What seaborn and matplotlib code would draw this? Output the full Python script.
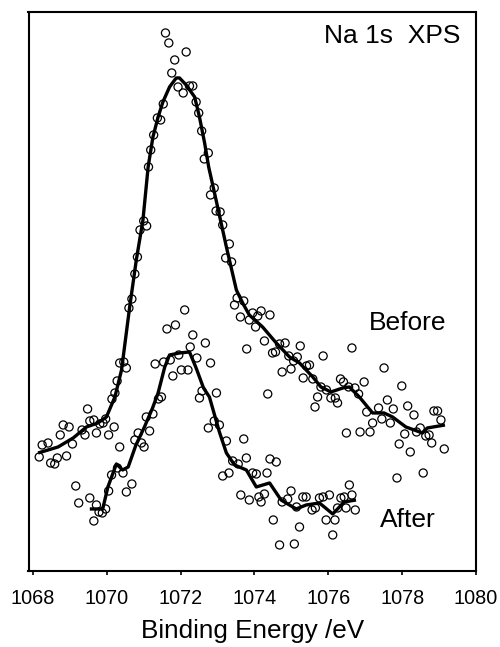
import matplotlib
matplotlib.use("Agg")
import matplotlib.pyplot as plt
import seaborn as sns
import pandas as pd

# Na 1s XPS spectra: measured points and smoothed curves (arbitrary intensity units)
before_energy = [
    1068.17, 1068.25, 1068.41, 1068.48, 1068.59, 1068.66, 1068.74, 1068.82, 1068.91, 1068.98,
    1069.07, 1069.33, 1069.41, 1069.48, 1069.54, 1069.65, 1069.72, 1069.81, 1069.90, 1069.97,
    1070.05, 1070.14, 1070.20, 1070.22, 1070.28, 1070.35, 1070.46, 1070.53, 1070.60, 1070.68,
    1070.76, 1070.83, 1070.90, 1071.00, 1071.08, 1071.13, 1071.19, 1071.27, 1071.37, 1071.46,
    1071.53, 1071.59, 1071.68, 1071.76, 1071.84, 1071.93, 1072.07, 1072.15, 1072.24, 1072.33,
    1072.42, 1072.49, 1072.57, 1072.64, 1072.75, 1072.81, 1072.91, 1072.96, 1073.07, 1073.14,
    1073.22, 1073.32, 1073.38, 1073.46, 1073.53, 1073.62, 1073.71, 1073.79, 1073.86, 1073.95,
    1074.03, 1074.09, 1074.18, 1074.27, 1074.36, 1074.42, 1074.49, 1074.57, 1074.68, 1074.75,
    1074.83, 1074.93, 1074.99, 1075.06, 1075.16, 1075.24, 1075.32, 1075.41, 1075.49, 1075.58,
    1075.64, 1075.71, 1075.80, 1075.86, 1075.95, 1076.07, 1076.19, 1076.25, 1076.33, 1076.41,
    1076.49, 1076.55, 1076.64, 1076.72, 1076.82, 1076.86, 1076.97, 1077.04, 1077.13, 1077.20,
    1077.36, 1077.45, 1077.51, 1077.60, 1077.68, 1077.76, 1077.86, 1077.92, 1077.99, 1078.07,
    1078.15, 1078.22, 1078.32, 1078.39, 1078.49, 1078.57, 1078.64, 1078.73, 1078.80, 1078.86,
    1078.96, 1079.05, 1079.14,
]
before_counts = [
    113, 125, 127, 107, 106, 112, 135, 145, 114, 143,
    126, 140, 135, 161, 149, 150, 137, 146, 147, 151,
    135, 171, 143, 177, 189, 207, 208, 202, 262, 271,
    296, 313, 340, 349, 344, 403, 420, 435, 452, 450,
    466, 537, 527, 497, 510, 483, 477, 518, 484, 484,
    468, 457, 439, 411, 417, 375, 382, 359, 358, 345,
    312, 326, 308, 265, 272, 253, 269, 221, 250, 257,
    243, 254, 259, 229, 176, 255, 217, 218, 226, 198,
    227, 214, 201, 209, 213, 224, 192, 204, 205, 191,
    163, 173, 183, 214, 180, 172, 172, 167, 191, 188,
    137, 183, 222, 182, 176, 138, 188, 158, 138, 147,
    162, 151, 202, 170, 147, 161, 92, 126, 184, 136,
    164, 118, 155, 138, 142, 97, 134, 135, 127, 159,
    159, 150, 121,
]

before_fit_energy = [
    1068.14, 1068.68, 1069.09, 1069.45, 1069.76, 1069.99, 1070.22, 1070.40, 1070.62, 1070.80,
    1070.98, 1071.12, 1071.25, 1071.39, 1071.52, 1071.70, 1071.88, 1071.97, 1072.15, 1072.38,
    1072.51, 1072.65, 1072.76, 1072.96, 1073.24, 1073.51, 1073.68, 1073.86, 1074.22, 1074.59,
    1074.95, 1075.22, 1075.58, 1075.80, 1076.07, 1076.39, 1076.57, 1076.84, 1077.20, 1077.51,
    1077.74, 1078.10, 1078.55, 1078.68, 1079.16,
]
before_fit_counts = [
    117, 123, 132, 143, 147, 153, 173, 200, 263, 310,
    350, 403, 433, 453, 468, 483, 492, 492, 485, 473,
    453, 427, 403, 370, 323, 280, 267, 255, 243, 227,
    213, 207, 193, 183, 178, 182, 183, 173, 157, 157,
    153, 143, 137, 142, 145,
]

after_energy = [
    1069.16, 1069.24, 1069.54, 1069.65, 1069.72, 1069.79, 1069.88, 1069.97, 1070.05, 1070.13,
    1070.29, 1070.35, 1070.44, 1070.53, 1070.68, 1070.76, 1070.85, 1070.94, 1071.01, 1071.07,
    1071.16, 1071.25, 1071.31, 1071.40, 1071.48, 1071.54, 1071.63, 1071.72, 1071.79, 1071.86,
    1071.95, 1072.02, 1072.11, 1072.20, 1072.26, 1072.33, 1072.44, 1072.51, 1072.58, 1072.67,
    1072.75, 1072.81, 1072.91, 1072.97, 1073.05, 1073.14, 1073.24, 1073.31, 1073.41, 1073.56,
    1073.63, 1073.71, 1073.78, 1073.86, 1073.95, 1074.05, 1074.12, 1074.18, 1074.27, 1074.34,
    1074.42, 1074.51, 1074.59, 1074.68, 1074.75, 1074.90, 1074.99, 1075.08, 1075.14, 1075.22,
    1075.31, 1075.40, 1075.56, 1075.65, 1075.76, 1075.86, 1075.94, 1076.03, 1076.12, 1076.18,
    1076.25, 1076.34, 1076.43, 1076.48, 1076.57, 1076.64, 1076.73,
]
after_counts = [
    84, 67, 72, 49, 65, 58, 57, 61, 79, 95,
    102, 123, 97, 78, 86, 130, 137, 127, 123, 153,
    139, 156, 206, 171, 173, 208, 241, 210, 194, 245,
    215, 200, 260, 200, 223, 235, 212, 172, 179, 227,
    142, 207, 149, 177, 145, 94, 129, 97, 109, 106,
    75, 131, 112, 70, 97, 96, 73, 68, 76, 97,
    111, 50, 108, 25, 68, 71, 79, 26, 63, 43,
    73, 73, 60, 62, 72, 73, 50, 75, 35, 50,
    62, 72, 73, 62, 85, 75, 60,
]

after_fit_energy = [
    1069.54, 1069.89, 1070.03, 1070.26, 1070.43, 1070.58, 1070.79, 1071.02, 1071.24, 1071.39,
    1071.57, 1071.70, 1071.97, 1072.24, 1072.42, 1072.62, 1072.78, 1073.05, 1073.24, 1073.46,
    1073.78, 1074.05, 1074.41, 1074.72, 1075.13, 1075.40, 1075.76, 1076.12, 1076.43, 1076.75,
]
after_fit_counts = [
    61, 61, 83, 106, 100, 103, 125, 143, 162, 177,
    203, 215, 217, 218, 202, 182, 173, 138, 117, 105,
    100, 83, 87, 70, 61, 65, 67, 56, 68, 70,
]

points_before = pd.DataFrame({"energy": before_energy, "counts": before_counts})
points_after = pd.DataFrame({"energy": after_energy, "counts": after_counts})
fit_before = pd.DataFrame({"energy": before_fit_energy, "counts": before_fit_counts})
fit_after = pd.DataFrame({"energy": after_fit_energy, "counts": after_fit_counts})

sns.set_theme(style="white")
plt.rcParams["font.family"] = ["Liberation Sans", "DejaVu Sans"]
plt.rcParams["text.color"] = "black"
plt.rcParams["axes.labelcolor"] = "black"
plt.rcParams["xtick.color"] = "black"

fig = plt.figure(figsize=(5.0, 6.47), dpi=100)
ax = fig.add_axes([0.057, 0.1175, 0.895, 0.864])

for pts in (points_before, points_after):
    sns.scatterplot(data=pts, x="energy", y="counts", ax=ax, marker="o",
                    s=34, facecolor="none", edgecolor="black", linewidth=0.9,
                    legend=False, zorder=2)

for fit in (fit_before, fit_after):
    sns.lineplot(data=fit, x="energy", y="counts", ax=ax, color="black",
                 linewidth=2.4, estimator=None, sort=False, legend=False,
                 zorder=3, solid_joinstyle="round", solid_capstyle="butt")

ax.set_xlim(1067.88, 1080)
ax.set_ylim(-1, 558)
ax.set_xticks([1068, 1070, 1072, 1074, 1076, 1078, 1080])
ax.set_yticks([])
ax.set_ylabel("")
ax.set_xlabel("Binding Energy /eV", fontsize=18.8, labelpad=8, color="black")
ax.tick_params(axis="x", direction="out", length=3, width=1.2, colors="black",
               labelsize=14.3, pad=10, bottom=True)

for side in ("left", "right", "top", "bottom"):
    ax.spines[side].set_visible(True)
    ax.spines[side].set_color("black")
    ax.spines[side].set_linewidth(1.5)

ax.text(0.964, 0.9445, "Na 1s  XPS", transform=ax.transAxes, ha="right",
        va="baseline", fontsize=19, color="black")
ax.text(0.761, 0.431, "Before", transform=ax.transAxes, ha="left",
        va="baseline", fontsize=19, color="black")
ax.text(0.785, 0.0787, "After", transform=ax.transAxes, ha="left",
        va="baseline", fontsize=19, color="black")

fig.savefig("out.png", dpi=100)
